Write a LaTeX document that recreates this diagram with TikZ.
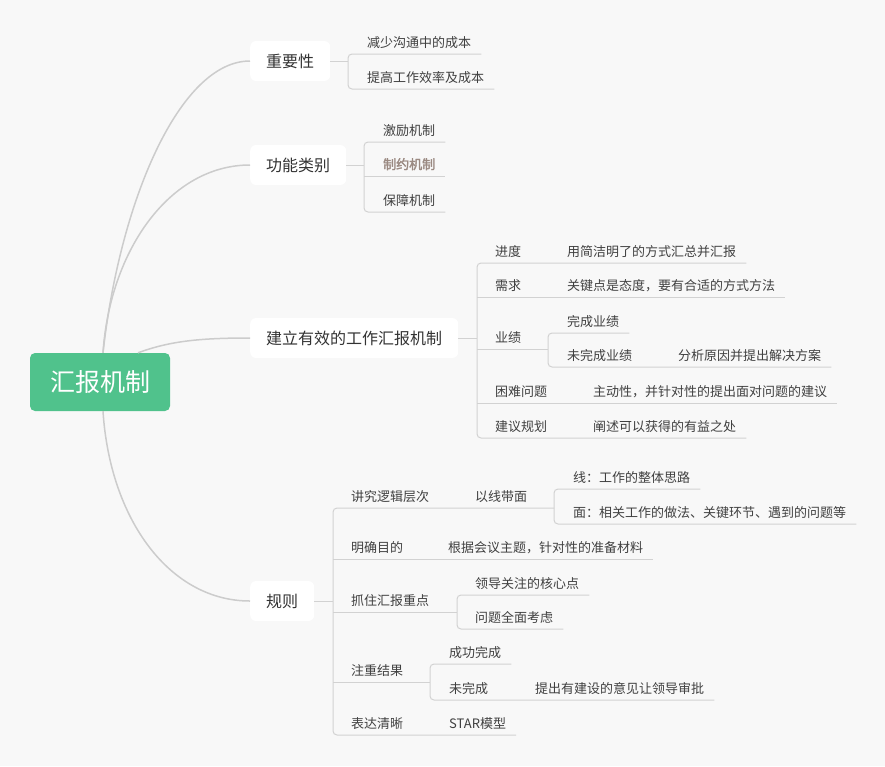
\documentclass[tikz,border=0pt]{standalone}
\usepackage{fontspec}
\setmainfont{Noto Sans CJK SC}
\newfontfamily\cjkb[FakeBold=2.5]{Noto Sans CJK SC}
\definecolor{bgc}{RGB}{248,248,248}
\definecolor{rootc}{RGB}{80,194,140}
\definecolor{maintc}{RGB}{51,51,51}
\definecolor{leaftc}{RGB}{64,64,64}
\definecolor{brc}{RGB}{155,138,130}
\definecolor{curvec}{RGB}{204,204,204}
\definecolor{linec}{RGB}{210,210,210}
\tikzset{
  rootbox/.style={fill=rootc, rounded corners=5pt, minimum width=140pt, minimum height=58pt,
    text=white, font=\fontsize{25pt}{25pt}\selectfont, inner sep=0pt, text height=22pt, text depth=3pt},
  mainbox/.style={fill=white, rounded corners=6pt, minimum height=40pt, inner xsep=16pt, inner ysep=0pt,
    anchor=west, text=maintc, font=\fontsize{16pt}{16pt}\selectfont, text height=14.1pt, text depth=1.9pt},
  leaf/.style={anchor=south west, inner xsep=0pt, inner ysep=5.5pt, text=leaftc,
    font=\fontsize{13pt}{13pt}\selectfont, text height=11.4pt, text depth=1.2pt},
  curve/.style={draw=curvec, line width=1.5pt},
  uline/.style={draw=linec, line width=1pt, rounded corners=4pt},
  tee/.style={draw=linec, line width=1pt}
}
\begin{document}
\begin{tikzpicture}[x=1pt,y=-1pt]
\fill[bgc] (0,0) rectangle (885,766);
\useasboundingbox (0,0) rectangle (885,766);

% root and main branches
\node[rootbox] (root) at (100,382) {汇报机制};
\node[mainbox] (m1) at (250,61) {重要性};
\node[mainbox] (m2) at (250,165) {功能类别};
\node[mainbox] (m3) at (250,338) {建立有效的工作汇报机制};
\node[mainbox] (m4) at (250,601) {规则};

\draw[curve] ([xshift=3pt]root.north) .. controls (120,200) and (180,61) .. (m1.west);
\draw[curve] ([xshift=3pt]root.north) .. controls (110,250) and (170,165) .. (m2.west);
\draw[curve] ([xshift=38pt]root.north) .. controls (170,341) and (200,338) .. (m3.west);
\draw[curve] ([xshift=3pt]root.south) .. controls (110,520) and (170,601) .. (m4.west);

% group 1
\coordinate (v1) at (348,61);
\node[leaf] (a1) at (367,54) {减少沟通中的成本};
\node[leaf] (a2) at (367,89) {提高工作效率及成本};
\draw[tee] (m1.east) -- (v1);
\draw[uline] ([xshift=10pt]a1.south east) -- (a1.south -| v1) -- (a2.south -| v1) -- ([xshift=10pt]a2.south east);

% group 2
\coordinate (v2) at (364,165);
\node[leaf] (b1) at (383,142) {激励机制};
\node[leaf, text=brc, font={\cjkb\fontsize{13pt}{13pt}\selectfont}] (b2) at (383,176) {制约机制};
\node[leaf] (b3) at (383,212) {保障机制};
\draw[tee] (m2.east) -- (v2);
\draw[uline] ([xshift=10pt]b1.south east) -- (b1.south -| v2) -- (b3.south -| v2) -- ([xshift=10pt]b3.south east);
\draw[tee] (b2.south -| v2) -- ([xshift=10pt]b2.south east);

% group 3
\coordinate (v3) at (477,338);
\coordinate (v3b) at (548,349);
\node[leaf] (c1) at (495,263) {进度};
\node[leaf] (c1a) at (567,263) {用简洁明了的方式汇总并汇报};
\node[leaf] (c2) at (495,297) {需求};
\node[leaf] (c2a) at (567,297) {关键点是态度，要有合适的方式方法};
\node[leaf] (c3) at (495,349) {业绩};
\node[leaf] (c3a) at (567,333) {完成业绩};
\node[leaf] (c3b) at (567,367) {未完成业绩};
\node[leaf] (c3b1) at (678,367) {分析原因并提出解决方案};
\node[leaf] (c4) at (495,403) {困难问题};
\node[leaf] (c4a) at (593,403) {主动性，并针对性的提出面对问题的建议};
\node[leaf] (c5) at (495,438) {建议规划};
\node[leaf] (c5a) at (593,438) {阐述可以获得的有益之处};
\draw[tee] (m3.east) -- (v3);
\draw[uline] ([xshift=10pt]c1a.south east) -- (c1.south -| v3) -- (c5.south -| v3) -- ([xshift=10pt]c5a.south east);
\draw[tee] (c2.south -| v3) -- ([xshift=10pt]c2a.south east);
\draw[tee] (c3.south -| v3) -- (c3.south -| v3b);
\draw[tee] (c4.south -| v3) -- ([xshift=10pt]c4a.south east);
\draw[uline] ([xshift=10pt]c3a.south east) -- (c3a.south -| v3b) -- (c3b.south -| v3b) -- ([xshift=10pt]c3b1.south east);

% group 4
\coordinate (v4) at (333,601);
\coordinate (v4b) at (554,508);
\coordinate (v4c) at (457,612);
\coordinate (v4d) at (430,682);
\node[leaf] (d1) at (351,508) {讲究逻辑层次};
\node[leaf] (d1a) at (475,508) {以线带面};
\node[leaf] (d1a1) at (573,489) {线：工作的整体思路};
\node[leaf] (d1a2) at (573,524) {面：相关工作的做法、关键环节、遇到的问题等};
\node[leaf] (d2) at (351,559) {明确目的};
\node[leaf] (d2a) at (448,559) {根据会议主题，针对性的准备材料};
\node[leaf] (d3) at (351,612) {抓住汇报重点};
\node[leaf] (d3a) at (475,595) {领导关注的核心点};
\node[leaf] (d3b) at (475,629) {问题全面考虑};
\node[leaf] (d4) at (351,682) {注重结果};
\node[leaf] (d4a) at (449,664) {成功完成};
\node[leaf] (d4b) at (449,700) {未完成};
\node[leaf] (d4b1) at (535,700) {提出有建设的意见让领导审批};
\node[leaf] (d5) at (351,735) {表达清晰};
\node[leaf] (d5a) at (449,735) {STAR模型};
\draw[tee] (m4.east) -- (v4);
\draw[uline] (d1a.south -| v4b) -- (d1.south -| v4) -- (d5.south -| v4) -- ([xshift=10pt]d5a.south east);
\draw[uline] ([xshift=10pt]d1a1.south east) -- (d1a1.south -| v4b) -- (d1a2.south -| v4b) -- ([xshift=10pt]d1a2.south east);
\draw[tee] (d2.south -| v4) -- ([xshift=10pt]d2a.south east);
\draw[tee] (d3.south -| v4) -- (d3.south -| v4c);
\draw[uline] ([xshift=10pt]d3a.south east) -- (d3a.south -| v4c) -- (d3b.south -| v4c) -- ([xshift=10pt]d3b.south east);
\draw[tee] (d4.south -| v4) -- (d4.south -| v4d);
\draw[uline] ([xshift=10pt]d4a.south east) -- (d4a.south -| v4d) -- (d4b.south -| v4d) -- ([xshift=10pt]d4b1.south east);
\end{tikzpicture}
\end{document}
